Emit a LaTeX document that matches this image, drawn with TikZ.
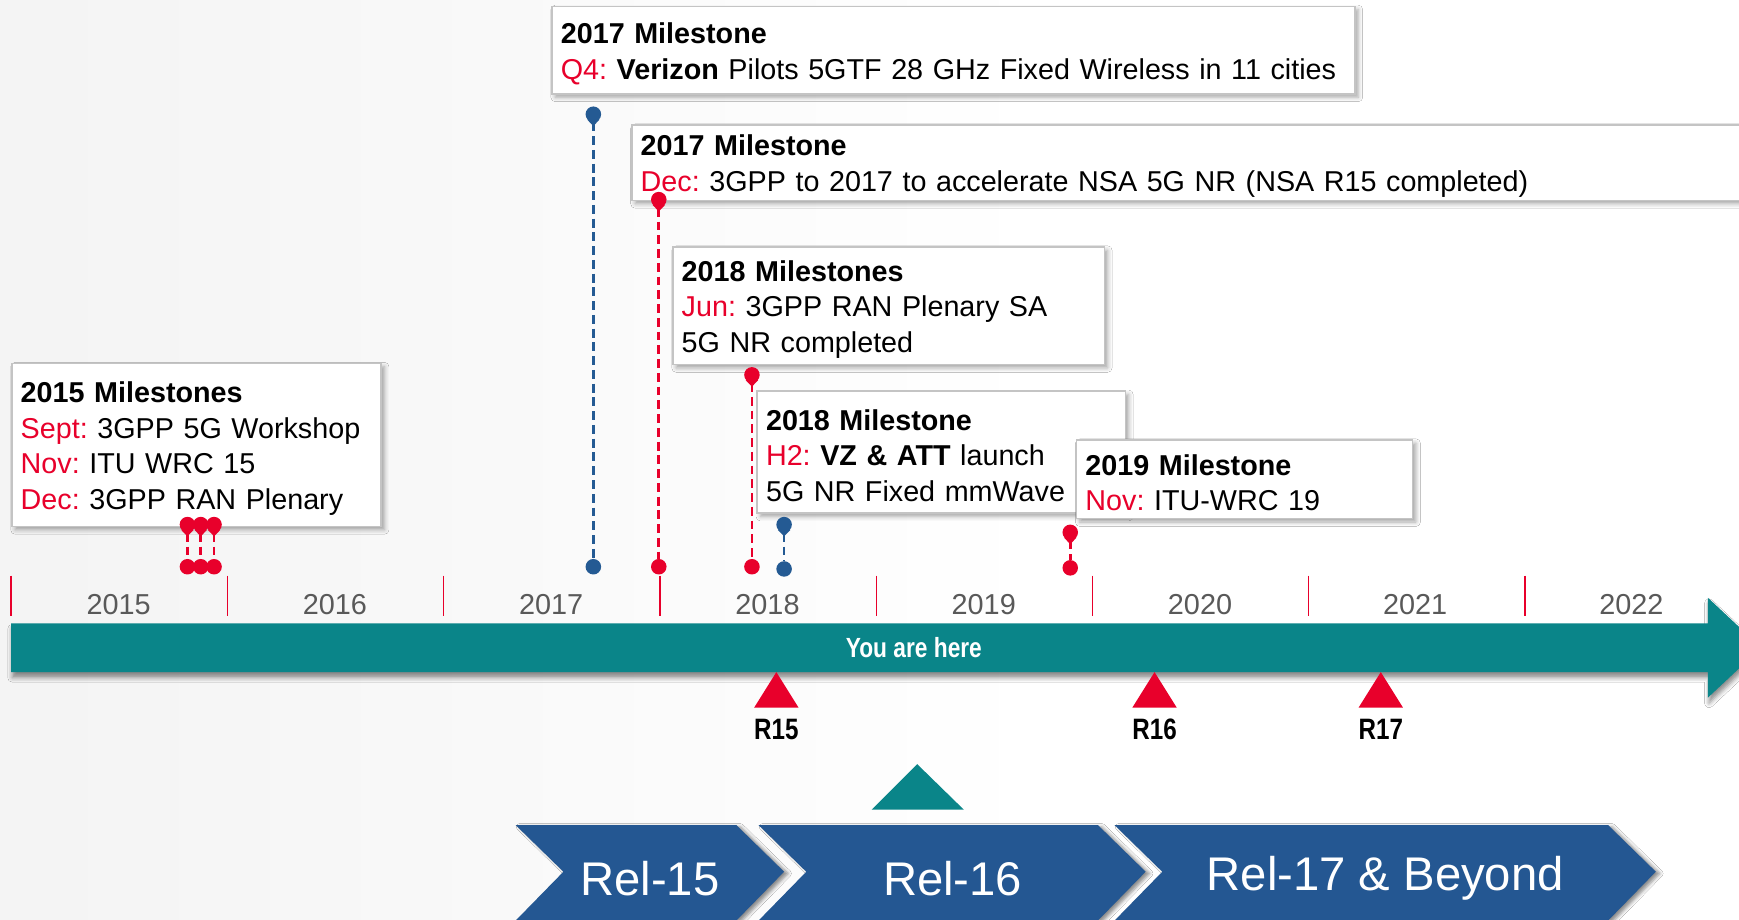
\documentclass[tikz,border=0pt]{standalone}
\usepackage{fontspec}
\setmainfont{Liberation Sans}
\newfontfamily\narrowfont[FakeStretch=0.82]{Liberation Sans}
\usetikzlibrary{shadows.blur}

\definecolor{msred}{HTML}{E8002B}
\definecolor{msblue}{HTML}{245A93}
\definecolor{relblue}{HTML}{245792}
\definecolor{tealbar}{HTML}{0A8589}
\definecolor{yeargray}{HTML}{595959}
\definecolor{boxline}{HTML}{C4C4C4}
\definecolor{bgleft}{HTML}{EAEAEA}

\pgfdeclarehorizontalshading{pagebg}{100bp}{color(0bp)=(bgleft); color(55bp)=(white); color(100bp)=(white)}

\newcommand\msfont{\fontsize{12.95}{16}\selectfont\frenchspacing}
\newcommand\mred[1]{\textcolor{msred}{#1}}
% top strut: keeps the first line of every call-out at the same depth in its box
\newcommand\firstline{\rule{0pt}{12.6pt}}

\tikzset{
  msbox/.style={draw=boxline, line width=0.7pt, fill=white, anchor=north west,
    align=left, inner xsep=4pt, inner ysep=0pt, font=\msfont,
    blur shadow={shadow xshift=1.5pt, shadow yshift=-1.5pt, shadow blur radius=2pt, shadow opacity=35}},
  pinball/.style={circle, fill=#1, inner sep=0pt, minimum size=7pt},
  pinline/.style={draw=#1, line width=1.2pt, dash pattern=on 4pt off 2.2pt},
  yearlabel/.style={text=yeargray, font=\fontsize{13}{15}\selectfont},
  tick/.style={draw=msred, line width=0.6pt},
  relmark/.style={font=\narrowfont\bfseries\fontsize{13.3}{15}\selectfont},
  chevron/.style={fill=relblue, blur shadow={shadow xshift=1.8pt, shadow yshift=-0.8pt, shadow blur radius=1.5pt, shadow opacity=45}},
  reltext/.style={text=white, font=\fontsize{21.3}{24}\selectfont},
}

\begin{document}
\begin{tikzpicture}[x=0.5pt, y=-0.5pt]
  \useasboundingbox (0,0) rectangle (1568,829);
  \clip (0,0) rectangle (1568,829);
  \shade[shading=pagebg] (0,0) rectangle (1568,829);

  % milestone call-out boxes
  \node[msbox, text width=354pt, minimum height=39.5pt] (m17a) at (497,5)
    {\firstline\textbf{2017 Milestone}\\ \mbox{\mred{Q4:} \textbf{Verizon} Pilots 5GTF 28 GHz Fixed Wireless in 11 cities}};
  \node[msbox, text width=517.5pt, minimum height=34pt] (m17b) at (569,112)
    {\firstline\textbf{2017 Milestone}\\ \mred{Dec:} 3GPP to 2017 to accelerate NSA 5G NR (NSA R15 completed)};
  \node[msbox, text width=186.5pt, minimum height=53pt] (m18a) at (606,222)
    {\firstline\textbf{2018 Milestones}\\ \mred{Jun:} 3GPP RAN Plenary SA\\ 5G NR completed};
  \node[msbox, text width=158pt, minimum height=55pt] (m18b) at (682,352)
    {\firstline\textbf{2018 Milestone}\\ \mred{H2:} \textbf{VZ \& ATT} launch\\ 5G NR Fixed mmWave};
  \node[msbox, text width=143.5pt, minimum height=35.5pt] (m19) at (970,396)
    {\firstline\textbf{2019 Milestone}\\ \mred{Nov:} ITU-WRC 19};
  \node[msbox, text width=158.5pt, minimum height=73.5pt] (m15) at (10,327)
    {\firstline\textbf{2015 Milestones}\\ \mred{Sept:} 3GPP 5G Workshop\\ \mred{Nov:} ITU WRC 15\\ \mred{Dec:} 3GPP RAN Plenary};

  % year ticks and labels
  \foreach \tx in {10,205,400,595,790,985,1180,1375}
    \draw[tick] (\tx,519) -- (\tx,555);
  \foreach \yr/\cx in {2015/107,2016/302,2017/497,2018/692,2019/887,2020/1082,2021/1276,2022/1471}
    \node[yearlabel] (y\yr) at (\cx,545) {\yr};

  % timeline arrow
  \fill[tealbar, blur shadow={shadow xshift=0.5pt, shadow yshift=-2.5pt, shadow blur radius=2pt, shadow opacity=45}]
    (10,562) -- (1540,562) -- (1540,539) -- (1588,584) -- (1540,629) -- (1540,606) -- (10,606) -- cycle;
  \node[text=white, font=\narrowfont\bfseries\fontsize{12.5}{14}\selectfont] (here) at (824,584) {You are here};

  % pins: event markers above the timeline
  \foreach \n/\px in {1/169,2/181,3/193}{
    \node[pinball=msred] (s\n) at (\px,473) {};
    \node[pinball=msred] (e\n) at (\px,511) {};
    \draw[pinline=msred] (s\n) -- (e\n);
  }
  \node[pinball=msblue] (q4s) at (535,103) {};
  \node[pinball=msblue] (q4e) at (535,511) {};
  \draw[pinline=msblue] (q4s) -- (q4e);
  \node[pinball=msred] (decs) at (594,180) {};
  \node[pinball=msred] (dece) at (594,511) {};
  \draw[pinline=msred] (decs) -- (dece);
  \node[pinball=msred] (juns) at (678,338) {};
  \node[pinball=msred] (june) at (678,511) {};
  \draw[pinline=msred] (juns) -- (june);
  \node[pinball=msblue] (h2s) at (707,473) {};
  \node[pinball=msblue] (h2e) at (707,513) {};
  \draw[pinline=msblue] (h2s) -- (h2e);
  \node[pinball=msred] (novs) at (965,480) {};
  \node[pinball=msred] (nove) at (965,512) {};
  \draw[pinline=msred] (novs) -- (nove);

  % small downward tips under the upper pin heads
  \foreach \pn/\pc in {s1/msred,s2/msred,s3/msred,q4s/msblue,decs/msred,juns/msred,h2s/msblue,novs/msred}
    \fill[\pc] (\pn.-140) -- (\pn.-40) -- ([yshift=-1.6pt]\pn.south) -- cycle;

  % release markers below the timeline
  \foreach \rx/\rl in {700/R15,1041/R16,1245/R17}{
    \fill[msred] (\rx,606) -- (\rx+20,638) -- (\rx-20,638) -- cycle;
    \node[relmark] (\rl) at (\rx,658) {\rl};
  }

  % current position marker
  \fill[tealbar] (827,689) -- (869,730) -- (786,730) -- cycle;

  % release chevrons
  \fill[chevron] (465,744) -- (664,744) -- (707,786) -- (664,830) -- (465,830) -- (508,786) -- cycle;
  \node[reltext] (rel15) at (586,792) {Rel-15};
  \fill[chevron] (684,744) -- (990,744) -- (1033,786) -- (990,830) -- (684,830) -- (727,786) -- cycle;
  \node[reltext] (rel16) at (859,792) {Rel-16};
  \fill[chevron] (1005,744) -- (1450,744) -- (1493,786) -- (1450,830) -- (1005,830) -- (1048,786) -- cycle;
  \node[reltext] (rel17) at (1249,792) {Rel-17 \& Beyond};
\end{tikzpicture}
\end{document}
